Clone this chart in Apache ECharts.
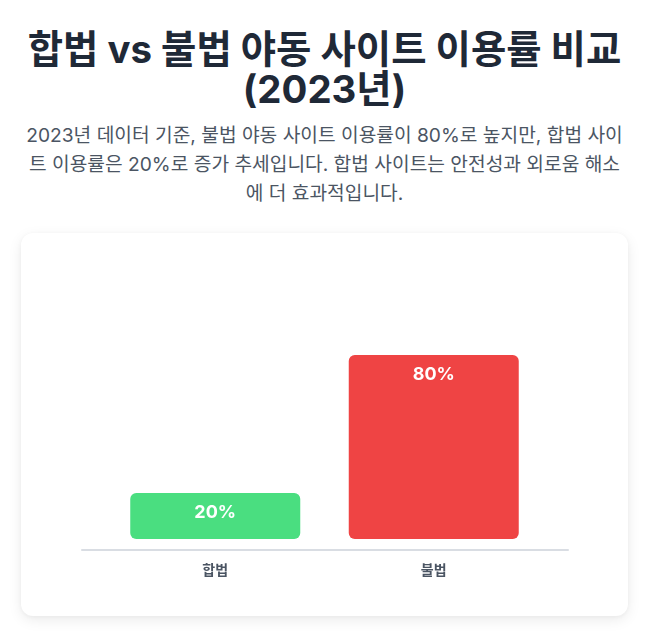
<!DOCTYPE html>
<html lang="ko">
<head>
<meta charset="utf-8">
<script src="https://cdn.jsdelivr.net/npm/echarts@6/dist/echarts.min.js"></script>
<style>
  html, body { margin: 0; padding: 0; background: #ffffff; }
  body { width: 649px; height: 640px; overflow: hidden; font-family: Inter, "Noto Sans CJK KR", sans-serif; }
  .wrap { padding: 0 21px; }
  h1 { margin: 29px 0 0 0; font-size: 38.4px; line-height: 40px; font-weight: 700; color: #1f2937; text-align: center; }
  p.sub { margin: 12px 0 0 0; font-size: 19.2px; line-height: 28.8px; font-weight: 400; color: #4b5563; text-align: center; }
  .card { position: absolute; left: 21px; top: 233px; width: 607px; height: 383px; background: #fff; border-radius: 12px;
          box-shadow: 0 4px 14px rgba(0,0,0,0.08), 0 1px 4px rgba(0,0,0,0.04); }
  #chart { width: 607px; height: 383px; }
</style>
</head>
<body>
<div class="wrap">
  <h1>합법 vs 불법 야동 사이트 이용률 비교 (2023년)</h1>
  <p class="sub">2023년 데이터 기준, 불법 야동 사이트 이용률이 80%로 높지만, 합법 사이트 이용률은 20%로 증가 추세입니다. 합법 사이트는 안전성과 외로움 해소에 더 효과적입니다.</p>
</div>
<div class="card"><div id="chart"></div></div>
<script>
const categories = ['합법', '불법'];
const usageRates = [20, 80];
const barColors = ['#4ade80', '#ef4444'];

const FONT = 'Inter, "Noto Sans CJK KR", sans-serif';
const chart = echarts.init(document.getElementById('chart'), null, { renderer: 'canvas' });
chart.setOption({
  animation: false,
  grid: [
    { left: 85, right: 85, top: 76, bottom: 77 },
    { left: 61, right: 60, top: 76, bottom: 66.5 }
  ],
  xAxis: [
    { type: 'category', gridIndex: 0, data: categories,
      axisLine: { show: false }, axisTick: { show: false },
      axisLabel: { margin: 25, fontSize: 14, color: '#4b5563', fontWeight: 600, fontFamily: FONT } },
    { type: 'category', gridIndex: 1, data: categories,
      axisLine: { show: true, lineStyle: { color: '#d9dde3', width: 2 } },
      axisTick: { show: false }, axisLabel: { show: false } }
  ],
  yAxis: [
    { type: 'value', gridIndex: 0, min: 0, max: 100, show: false, splitLine: { show: false } },
    { type: 'value', gridIndex: 1, min: 0, max: 100, show: false, splitLine: { show: false } }
  ],
  series: [{
    type: 'bar',
    xAxisIndex: 0, yAxisIndex: 0,
    barWidth: 170,
    data: usageRates.map((v, i) => ({ value: v, itemStyle: { color: barColors[i], borderRadius: 6 } })),
    label: {
      show: true, position: 'insideTop', distance: 11,
      formatter: '{c}%', color: '#ffffff', fontSize: 18, fontWeight: 'bold', fontFamily: FONT
    }
  }]
});
</script>
</body>
</html>
